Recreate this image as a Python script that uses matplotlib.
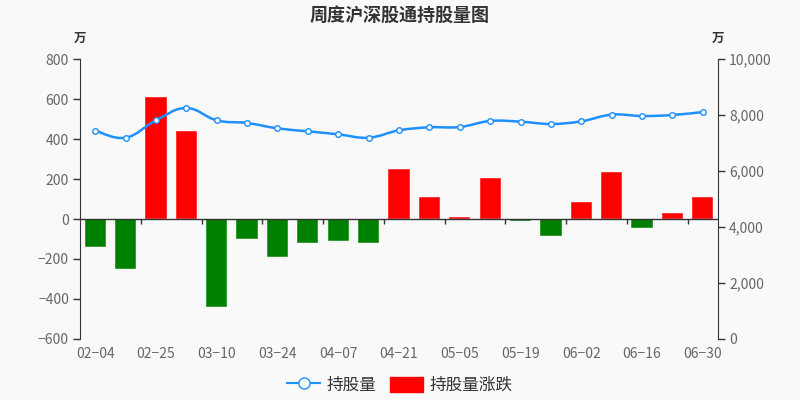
import numpy as np
import matplotlib
matplotlib.use("Agg")
import matplotlib.pyplot as plt
from matplotlib.path import Path
from matplotlib.patches import PathPatch, Patch
from matplotlib.lines import Line2D
from matplotlib.ticker import FuncFormatter

plt.rcParams['font.family'] = ['Noto Sans CJK SC', 'DejaVu Sans']

dates = ["02-04", "02-18", "02-25", "03-03", "03-10", "03-17", "03-24", "03-31",
         "04-07", "04-14", "04-21", "04-28", "05-05", "05-12", "05-19", "05-26",
         "06-02", "06-09", "06-16", "06-23", "06-30"]
# 持股量涨跌 (万)
change = [-138, -252, 608, 440, -442, -102, -188, -122, -108, -122, 248,
          108, 12, 207, -10, -87, 84, 236, -46, 32, 108]
# 持股量 (万)
holding = [7440, 7190, 7810, 8250, 7810, 7714, 7524, 7417, 7310, 7190, 7452,
           7560, 7571, 7786, 7762, 7679, 7774, 8012, 7964, 8000, 8107]

bg = "#f9f9f9"
txt = "#666666"
axc = "#333333"

fig = plt.figure(figsize=(8, 4), dpi=100, facecolor=bg)
ax = fig.add_axes([0.1, 0.1525, 0.7975, 0.7], facecolor=bg)
ax2 = ax.twinx()

x = np.arange(len(dates))
colors = ["#ff0000" if v >= 0 else "#008000" for v in change]
ax.bar(x, change, width=0.7, color=colors, edgecolor="#ffffff", linewidth=0.3, zorder=2)

ax.set_xlim(-0.5, len(dates) - 0.5)
ax.set_ylim(-600, 800)
ax.set_yticks(range(-600, 801, 200))
ax.set_yticklabels([str(v).replace("-", "\u2212") for v in range(-600, 801, 200)])

# x axis line sits at zero, labels at the bottom
ax.axhline(0, color=axc, lw=1, zorder=3)
tick_pos = np.arange(1.5, len(dates) - 0.5, 2)
ax.vlines(tick_pos, -25, 0, color=axc, lw=1, zorder=3)
ax.set_xticks(x[::2])
ax.set_xticklabels([d.replace("-", "\u2212") for d in dates[::2]])
ax.tick_params(axis="x", length=0, pad=6, labelsize=10, colors=txt)
ax.tick_params(axis="y", length=5, width=1, color=axc, labelsize=10, labelcolor=txt, pad=3)

for s in ["top", "bottom", "right"]:
    ax.spines[s].set_visible(False)
    ax2.spines[s].set_visible(False)
ax.spines["left"].set_color(axc)
ax2.spines["right"].set_visible(True)
ax2.spines["right"].set_color(axc)
ax2.spines["left"].set_visible(False)

ax2.set_ylim(0, 10000)
ax2.set_yticks(range(0, 10001, 2000))
ax2.yaxis.set_major_formatter(FuncFormatter(lambda v, p: f"{int(v):,}"))
ax2.tick_params(axis="y", length=5, width=1, color=axc, labelsize=10, labelcolor=txt, pad=3)

# smooth curve through the holding points
pts = np.column_stack([x, holding]).astype(float)
verts = [tuple(pts[0])]
codes = [Path.MOVETO]
k = 0.2
for i in range(len(pts) - 1):
    p0 = pts[i - 1] if i > 0 else pts[i]
    p1 = pts[i]
    p2 = pts[i + 1]
    p3 = pts[i + 2] if i + 2 < len(pts) else pts[i + 1]
    c1 = p1 + (p2 - p0) * k
    c2 = p2 - (p3 - p1) * k
    verts += [tuple(c1), tuple(c2), tuple(p2)]
    codes += [Path.CURVE4] * 3
ax2.add_patch(PathPatch(Path(verts, codes), facecolor="none", edgecolor="#1e90ff", lw=1.8, zorder=4))
ax2.plot(x, holding, ls="none", marker="o", ms=4, mfc="white", mec="#1e90ff", mew=1, zorder=5)

fig.text(0.5, 0.962, "周度沪深股通持股量图", ha="center", va="center", fontsize=13,
         fontweight="bold", color="#333333")
fig.text(0.1, 0.905, "万", ha="center", va="center", fontsize=9, fontweight="bold", color="#333333")
fig.text(0.8975, 0.905, "万", ha="center", va="center", fontsize=9, fontweight="bold", color="#333333")

handles = [Line2D([0], [0], color="#1e90ff", lw=1.5, marker="o", ms=8, mfc="white", mec="#1e90ff"),
           Patch(facecolor="#ff0000", edgecolor="#ff0000")]
fig.legend(handles, ["持股量", "持股量涨跌"], loc="center", bbox_to_anchor=(0.5, 0.037), ncol=2,
           frameon=False, fontsize=12, handlelength=2.0, handleheight=1.0, columnspacing=0.8,
           handletextpad=0.4, labelcolor="#333333")

fig.savefig("out.png", dpi=100, facecolor=bg)
